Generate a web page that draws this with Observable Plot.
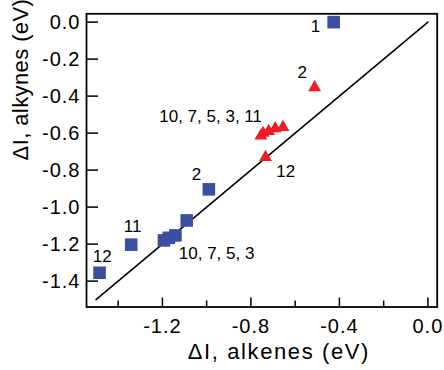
<!DOCTYPE html>
<html><head><meta charset="utf-8">
<script src="https://cdn.jsdelivr.net/npm/d3@7"></script>
<script src="https://cdn.jsdelivr.net/npm/@observablehq/plot@0.6"></script>
<style>html,body{margin:0;padding:0;background:#fff} #chart svg{display:block}</style>
</head><body><div id="chart"></div>
<script>
// Blue squares (data set 1)
const blueX = [-0.426, -0.990, -1.090, -1.141, -1.171, -1.193, -1.341, -1.484];
const blueY = [0.000, -0.904, -1.072, -1.153, -1.166, -1.180, -1.203, -1.355];
// Red triangles (data set 2)
const redX = [-0.512, -0.755, -0.745, -0.720, -0.690, -0.655, -0.734];
const redY = [-0.353, -0.615, -0.600, -0.590, -0.575, -0.568, -0.730];
// Reference line y = x
const lineX = [-1.5, 0.0];
const lineY = [-1.5, 0.0];
// Point annotations
const labelText = ["1", "2", "10, 7, 5, 3, 11", "12", "2", "10, 7, 5, 3", "11", "12"];
const labelX = [-0.508, -0.568, -0.982, -0.643, -1.046, -0.955, -1.335, -1.472];
const labelY = [-0.022, -0.272, -0.511, -0.807, -0.823, -1.250, -1.104, -1.266];
// Ticks
const xMajor = [-1.2, -0.8, -0.4, 0.0];
const xMinor = [-1.4, -1.0, -0.6, -0.2];
const yTicks = [0.0, -0.2, -0.4, -0.6, -0.8, -1.0, -1.2, -1.4];
const xTitle = "ΔI, alkenes (eV)";
const yTitle = "ΔI, alkynes (eV)";

const W = 444, H = 370, mL = 86, mR = 7.3, mT = 13.3, mB = 63.5;
const fw = W - mL - mR, fh = H - mT - mB;
const fmt = d => d.toFixed(1);

const blue = blueX.map((x, i) => ({x, y: blueY[i]}));
const red = redX.map((x, i) => ({x, y: redY[i]}));
const line = lineX.map((x, i) => ({x, y: lineY[i]}));
const labels = labelText.map((t, i) => ({t, x: labelX[i], y: labelY[i]}));

const chart = Plot.plot({
  width: W, height: H,
  marginLeft: mL, marginRight: mR, marginTop: mT, marginBottom: mB,
  x: {domain: [-1.543, 0.042]},
  y: {domain: [-1.54, 0.045]},
  style: {fontFamily: "'Liberation Sans', Arial, sans-serif", fontSize: "20px", color: "#000", background: "#fff"},
  marks: [
    Plot.line(line, {x: "x", y: "y", stroke: "#000", strokeWidth: 1.6}),
    Plot.dot(blue, {x: "x", y: "y", symbol: "square", r: 7.1, fill: "#3b4ea2", stroke: "none"}),
    Plot.dot(red, {x: "x", y: "y", symbol: "triangle", r: 4.8, fill: "#ee1d25", stroke: "none"}),
    Plot.text(labels, {x: "x", y: "y", text: "t", fontSize: 17, fill: "#000"}),
    Plot.tickX(xMajor, {x: d => d, insetTop: fh - 9, stroke: "#000", strokeWidth: 1.5}),
    Plot.tickX(xMinor, {x: d => d, insetTop: fh - 6, stroke: "#000", strokeWidth: 1.5}),
    Plot.tickY(yTicks, {y: d => d, insetRight: fw - 12, stroke: "#000", strokeWidth: 1.5}),
    Plot.axisX({ticks: xMajor, tickSize: 0, tickPadding: 11.5, tickFormat: fmt, label: null, fontSize: 20}),
    Plot.axisY({ticks: yTicks, tickSize: 0, tickPadding: 6, tickFormat: fmt, label: null, fontSize: 20}),
    Plot.text([xTitle], {text: d => d, frameAnchor: "bottom", lineAnchor: "top", dy: 36, dx: 17, fontSize: 22, fill: "#000"}),
    Plot.text([yTitle], {text: d => d, frameAnchor: "left", rotate: -90, dx: -65.6, fontSize: 22, fill: "#000"}),
    Plot.frame({stroke: "#000", strokeWidth: 1.8})
  ]
});
document.getElementById("chart").appendChild(chart);
chart.querySelectorAll("text").forEach(t => {
  const s = t.textContent;
  if (s === xTitle) t.setAttribute("letter-spacing", "1.6");
  else if (s === yTitle) t.setAttribute("letter-spacing", "0.4");
  else if (/^-?\d\.\d$/.test(s)) t.setAttribute("letter-spacing", "1");
});
</script>
</body></html>
